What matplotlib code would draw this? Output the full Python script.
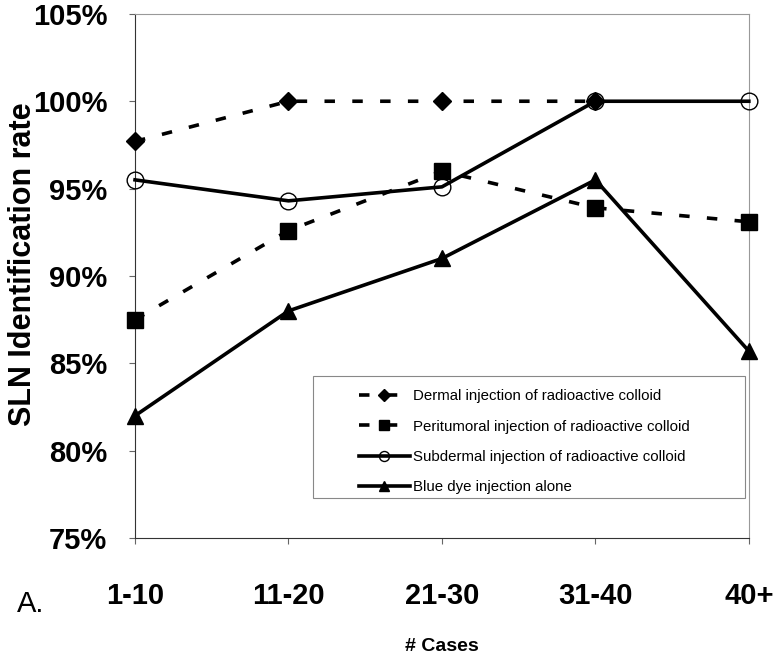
import numpy as np
from matplotlib import pyplot as plt
from matplotlib.patches import Rectangle

plt.rcParams['font.family'] = ['Liberation Sans', 'DejaVu Sans']

cases = ['1-10', '11-20', '21-30', '31-40', '40+']
dermal = [97.7, 100.0, 100.0, 100.0, np.nan]
peritumoral = [87.5, 92.6, 96.0, 93.9, 93.1]
subdermal = [95.5, 94.3, 95.1, 100.0, 100.0]
blue_dye = [82.0, 88.0, 91.0, 95.5, 85.7]
yticks = [75, 80, 85, 90, 95, 100, 105]

labels = ['Dermal injection of radioactive colloid',
          'Peritumoral injection of radioactive colloid',
          'Subdermal injection of radioactive colloid',
          'Blue dye injection alone']

fig = plt.figure(figsize=(7.76, 6.61), dpi=100)
ax = fig.add_axes([0.174, 0.186, 0.791, 0.793])

x = np.arange(len(cases))
dash = (0, (2.9, 4.8))

ax.plot(x, dermal, color='black', lw=2.6, linestyle=dash,
        marker='D', markersize=9.5, label=labels[0], clip_on=False, zorder=3)
ax.plot(x, peritumoral, color='black', lw=2.6, linestyle=dash,
        marker='s', markersize=12, label=labels[1], clip_on=False, zorder=3)
ax.plot(x, subdermal, color='black', lw=2.6, linestyle='-',
        marker='o', markersize=12, markerfacecolor='none',
        markeredgewidth=1.0, label=labels[2], clip_on=False, zorder=4)
ax.plot(x, blue_dye, color='black', lw=2.6, linestyle='-',
        marker='^', markersize=12, label=labels[3], clip_on=False, zorder=3)

ax.set_xlim(0, 4)
ax.set_ylim(75, 105)
ax.set_yticks(yticks)
ax.set_yticklabels(['%d%%' % v for v in yticks])
ax.set_xticks(x)
ax.set_xticklabels(cases)
ax.tick_params(axis='y', labelsize=21, length=4, color='#666666', pad=16)
ax.tick_params(axis='x', labelsize=21, length=4, color='#666666', pad=28)
for t in ax.get_xticklabels() + ax.get_yticklabels():
    t.set_fontweight('bold')

for s in ax.spines.values():
    s.set_linewidth(0.8)
    s.set_color('#999999')
ax.spines['left'].set_color('#333333')
ax.spines['bottom'].set_color('#333333')

ax.set_ylabel('SLN Identification rate', fontsize=22, fontweight='bold')
ax.yaxis.set_label_coords(-0.158, 0.523)
ax.set_xlabel('# Cases', fontsize=14, fontweight='bold')
ax.xaxis.set_label_coords(0.5, -0.191)

fig.text(0.022, 0.074, 'A.', fontsize=21, va='baseline')

# legend box drawn separately, legend placed inside it
ax.add_patch(Rectangle((0.29, 0.076), 0.703, 0.233, transform=ax.transAxes,
                       fill=False, ec='#888888', lw=0.8, zorder=5))
ax.legend(loc='upper left', bbox_to_anchor=(0.355, 0.295), frameon=False,
          fontsize=10.8, handlelength=3.4, handletextpad=0.2, labelspacing=1.08,
          markerscale=0.6, borderaxespad=0)

plt.savefig('out.png', dpi=100)
